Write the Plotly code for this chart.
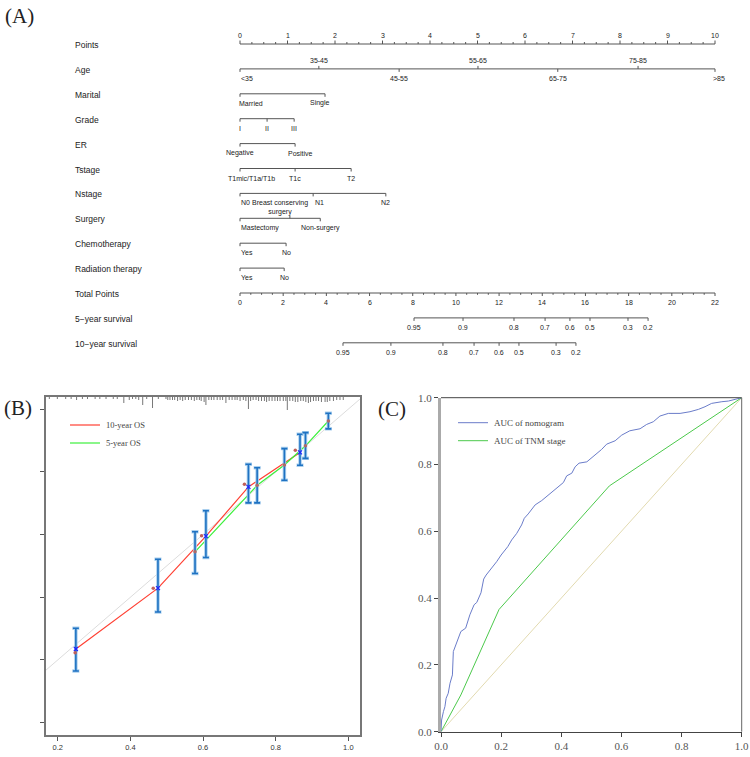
import plotly.graph_objects as go

W, H = 750, 757

# ------------------------- DATA -------------------------
# (A) nomogram
row_names = ["Points", "Age", "Marital", "Grade", "ER", "Tstage", "Nstage", "Surgery",
             "Chemotherapy", "Radiation therapy", "Total Points", "5\u2212year survival",
             "10\u2212year survival"]
points_major = list(range(0, 11))
age_levels = ["<35", "35-45", "45-55", "55-65", "65-75", "75-85", ">85"]
age_points = [0.0, 1.66, 3.35, 5.01, 6.69, 8.38, 10.0]
marital_levels = ["Married", "Single"]
marital_points = [0.0, 1.79]
grade_levels = ["I", "II", "III"]
grade_points = [0.0, 0.57, 1.14]
er_levels = ["Negative", "Positive"]
er_points = [0.0, 1.16]
tstage_levels = ["T1mic/T1a/T1b", "T1c", "T2"]
tstage_points = [0.0, 1.16, 2.34]
nstage_levels = ["N0", "N1", "N2"]
nstage_points = [0.0, 1.54, 3.07]
surgery_levels = ["Mastectomy", "Breast conserving<br>surgery", "Non-surgery"]
surgery_points = [0.0, 1.05, 1.69]
chemo_levels = ["Yes", "No"]
chemo_points = [0.0, 0.97]
radiation_levels = ["Yes", "No"]
radiation_points = [0.0, 0.93]
total_major = list(range(0, 23, 2))
total_max = 22
surv5_labels = ["0.95", "0.9", "0.8", "0.7", "0.6", "0.5", "0.3", "0.2"]
surv5_total = [8.06, 10.33, 12.69, 14.13, 15.28, 16.21, 17.97, 18.90]
surv10_labels = ["0.95", "0.9", "0.8", "0.7", "0.6", "0.5", "0.3", "0.2"]
surv10_total = [4.77, 6.99, 9.40, 10.84, 12.00, 12.92, 14.64, 15.56]

# (B) calibration
cal10_pred = [0.250, 0.476, 0.608, 0.725, 0.867]
cal10_obs = [0.235, 0.429, 0.595, 0.752, 0.862]
cal10_lo = [0.165, 0.353, 0.527, 0.701, 0.821]
cal10_hi = [0.301, 0.521, 0.676, 0.824, 0.920]
cal10_corr_x = [0.248, 0.463, 0.596, 0.714, 0.854]
cal10_corr_y = [0.223, 0.429, 0.596, 0.760, 0.869]
cal5_pred = [0.578, 0.749, 0.824, 0.882, 0.945]
cal5_obs = [0.545, 0.757, 0.822, 0.883, 0.962]
cal5_lo = [0.476, 0.701, 0.773, 0.843, 0.937]
cal5_hi = [0.609, 0.813, 0.874, 0.925, 0.987]
rug_x = [0.177, 0.199, 0.222, 0.237, 0.252, 0.268, 0.282, 0.303, 0.316, 0.333, 0.353, 0.364,
         0.382, 0.397, 0.406, 0.415, 0.423, 0.434, 0.445, 0.461, 0.477, 0.498, 0.503, 0.509,
         0.516, 0.522, 0.530, 0.537, 0.544, 0.551, 0.560, 0.568, 0.576, 0.583, 0.590, 0.595,
         0.603, 0.608, 0.616, 0.623, 0.630, 0.639, 0.647, 0.654, 0.663, 0.672, 0.680, 0.688,
         0.694, 0.702, 0.711, 0.718, 0.725, 0.731, 0.738, 0.746, 0.753, 0.761, 0.769, 0.775,
         0.782, 0.790, 0.798, 0.805, 0.812, 0.821, 0.828, 0.832, 0.839, 0.847, 0.854, 0.861,
         0.869, 0.876, 0.883, 0.890, 0.896, 0.904, 0.911, 0.918, 0.926, 0.936, 0.942, 0.949,
         0.959, 0.968, 0.977, 0.986]
rug_n = [2, 2, 2, 2, 3, 2, 2, 2, 2, 2, 2, 2,
         6, 3, 2, 2, 3, 8, 2, 11, 2, 2, 3, 3,
         3, 3, 4, 3, 4, 3, 3, 3, 4, 3, 3, 4,
         5, 8, 3, 3, 3, 3, 3, 3, 6, 3, 3, 3,
         3, 4, 3, 4, 12, 4, 3, 3, 4, 4, 4, 5,
         4, 4, 4, 4, 4, 4, 4, 13, 4, 4, 5, 5,
         4, 4, 5, 6, 5, 4, 4, 4, 5, 5, 5, 4,
         4, 3, 3, 3]

# (C) ROC
roc_nom_fpr = [0, 0.002, 0.008, 0.013, 0.017, 0.024, 0.030, 0.038, 0.041, 0.047, 0.055, 0.066,
               0.082, 0.096, 0.110, 0.119, 0.133, 0.142, 0.150, 0.169, 0.185, 0.200, 0.222,
               0.235, 0.252, 0.268, 0.277, 0.290, 0.313, 0.335, 0.357, 0.385, 0.407, 0.418,
               0.435, 0.446, 0.459, 0.485, 0.512, 0.534, 0.551, 0.579, 0.601, 0.628, 0.662,
               0.684, 0.706, 0.728, 0.756, 0.795, 0.828, 0.856, 0.878, 0.900, 0.934, 0.956,
               0.978, 1.0]
roc_nom_tpr = [0, 0.035, 0.060, 0.075, 0.100, 0.115, 0.145, 0.170, 0.240, 0.253, 0.275, 0.300,
               0.310, 0.350, 0.380, 0.387, 0.416, 0.457, 0.469, 0.489, 0.509, 0.529, 0.554,
               0.574, 0.594, 0.619, 0.639, 0.652, 0.679, 0.692, 0.709, 0.729, 0.746, 0.766,
               0.774, 0.793, 0.804, 0.808, 0.828, 0.845, 0.861, 0.871, 0.888, 0.901, 0.907,
               0.920, 0.928, 0.945, 0.953, 0.953, 0.958, 0.965, 0.973, 0.983, 0.988, 0.990,
               0.995, 1.0]
roc_tnm_fpr = [0, 0.066, 0.193, 0.560, 1.0]
roc_tnm_tpr = [0, 0.110, 0.366, 0.736, 1.0]

# ------------------------- LAYOUT HELPERS -------------------------
SANS = "Liberation Sans, Arial, sans-serif"
SERIF = "Liberation Serif, Times New Roman, serif"
X0_PX, PT_PX = 240.0, 47.5
ROW0_PX, ROW_PX = 44.0, 24.9
TP2PTS = 10.0 / total_max


def rpx(p):
    return p / ROW_PX


def px_x(p):
    return p / W


def px_y(p):
    return 1 - p / H


fig = go.Figure()
annots = []
shapes = []

sx, sy = [], []


def seg(x0, y0, x1, y1):
    sx.extend([x0, x1, None])
    sy.extend([y0, y1, None])


def tick(x, row, side, length=3.0):
    d = -rpx(length) if side == "above" else rpx(length)
    seg(x, row, x, row + d)


def tlabel(x, row, text, side, xanchor="center", xshift=0, dy=None, size=7):
    if dy is None:
        dy = 8.5 if side == "above" else -9.5
    annots.append(dict(x=x, y=row, xref="x", yref="y", text=text, showarrow=False,
                       font=dict(family=SANS, size=size, color="#222"),
                       xanchor=xanchor, yanchor="middle", yshift=dy, xshift=xshift))


# row labels
for i, name in enumerate(row_names):
    annots.append(dict(x=px_x(73), y=i, xref="paper", yref="y", text=name, showarrow=False,
                       font=dict(family=SANS, size=8.5, color="#222"),
                       xanchor="left", yanchor="middle", yshift=-1))

# Points
seg(0, 0, 10, 0)
for k in range(41):
    tick(k * 0.25, 0, "above", 3.5 if k % 4 == 0 else 2.0)
for v in points_major:
    tlabel(v, 0, str(v), "above")

# Age
seg(age_points[0], 1, age_points[-1], 1)
for j, (lv, pt) in enumerate(zip(age_levels, age_points)):
    side = "above" if j % 2 == 1 else "below"
    tick(pt, 1, side)
    xa, xs = "center", 0
    if j == 0:
        xa, xs = "left", -1
    if j == len(age_levels) - 1:
        xs = 4
    tlabel(pt, 1, lv, side, xanchor=xa, xshift=xs)

label_style = {"Married": ("left", -3), "Mastectomy": ("left", -1), "Yes": ("left", -1),
               "N0": ("left", -1), "T1mic/T1a/T1b": ("center", 11), "Positive": ("center", 5),
               "Single": ("center", -5), "N1": ("center", 6),
               "Breast conserving<br>surgery": ("center", -10)}
cat_rows = [(2, marital_levels, marital_points), (3, grade_levels, grade_points),
            (4, er_levels, er_points), (5, tstage_levels, tstage_points),
            (6, nstage_levels, nstage_points), (7, surgery_levels, surgery_points),
            (8, chemo_levels, chemo_points), (9, radiation_levels, radiation_points)]
for row, levels, pts in cat_rows:
    seg(min(pts), row, max(pts), row)
    for lv, pt in zip(levels, pts):
        side = "above" if "<br>" in lv else "below"
        tick(pt, row, side)
        xa, xs = label_style.get(lv, ("center", 0))
        tlabel(pt, row, lv, side, xanchor=xa, xshift=xs, dy=(10.5 if side == "above" else None))

# Total points
seg(0, 10, total_max * TP2PTS, 10)
for k in range(total_max * 2 + 1):
    tick(k * 0.5 * TP2PTS, 10, "below", 3.0 if k % 4 == 0 else 1.8)
for v in total_major:
    tlabel(v * TP2PTS, 10, str(v), "below")

# Survival axes
for row, labs, tps in [(11, surv5_labels, surv5_total), (12, surv10_labels, surv10_total)]:
    seg(min(tps) * TP2PTS, row, max(tps) * TP2PTS, row)
    for lb, tp in zip(labs, tps):
        tick(tp * TP2PTS, row, "below")
        tlabel(tp * TP2PTS, row, lb, "below")

fig.add_trace(go.Scatter(x=sx, y=sy, mode="lines", line=dict(color="#555", width=1),
                         xaxis="x", yaxis="y", hoverinfo="skip"))

# ------------------------- (B) calibration -------------------------
B_YTOP = 1.0386
B_PXY = 313.6
rx, ry = [], []
for xv, n in zip(rug_x, rug_n):
    rx.extend([xv, xv, None])
    ry.extend([B_YTOP, B_YTOP - n / B_PXY, None])
fig.add_trace(go.Scatter(x=rx, y=ry, mode="lines", line=dict(color="#777", width=1),
                         xaxis="x2", yaxis="y2", hoverinfo="skip"))
fig.add_trace(go.Scatter(x=[0.1678, 1.0321], y=[0.1678, 1.0321], mode="lines",
                         line=dict(color="#dcdcdc", width=1), xaxis="x2", yaxis="y2"))
fig.add_trace(go.Scatter(x=cal10_pred, y=cal10_obs, mode="lines",
                         line=dict(color="#ff4033", width=1.2), xaxis="x2", yaxis="y2"))
fig.add_trace(go.Scatter(x=cal5_pred, y=cal5_obs, mode="lines",
                         line=dict(color="#3cf03c", width=1.2), xaxis="x2", yaxis="y2"))
for pred, obs, lo, hi in [(cal10_pred, cal10_obs, cal10_lo, cal10_hi),
                          (cal5_pred, cal5_obs, cal5_lo, cal5_hi)]:
    up = [h - o for h, o in zip(hi, obs)]
    dn = [o - l for o, l in zip(obs, lo)]
    fig.add_trace(go.Scatter(x=pred, y=obs, mode="markers", marker=dict(size=1, color="rgba(0,0,0,0)"),
                             error_y=dict(type="data", array=up, arrayminus=dn, color="#a9cfee",
                                          thickness=3.5, width=3.5),
                             xaxis="x2", yaxis="y2"))
    fig.add_trace(go.Scatter(x=pred, y=obs, mode="markers", marker=dict(size=1, color="rgba(0,0,0,0)"),
                             error_y=dict(type="data", array=up, arrayminus=dn, color="#1f72c2",
                                          thickness=1.6, width=3),
                             xaxis="x2", yaxis="y2"))
fig.add_trace(go.Scatter(x=cal10_pred, y=cal10_obs, mode="markers",
                         marker=dict(symbol="x-thin", size=4, color="#2020ff",
                                     line=dict(color="#2020ff", width=1.2)),
                         xaxis="x2", yaxis="y2"))
fig.add_trace(go.Scatter(x=cal10_corr_x, y=cal10_corr_y, mode="markers",
                         marker=dict(size=3.5, color="#c0605a"), xaxis="x2", yaxis="y2"))
fig.add_trace(go.Scatter(x=cal5_pred, y=cal5_obs, mode="markers",
                         marker=dict(size=3.5, color="#b06a66"), xaxis="x2", yaxis="y2"))

# ------------------------- (C) ROC -------------------------
fig.add_trace(go.Scatter(x=[0, 1], y=[0, 1], mode="lines", line=dict(color="#e2dab0", width=1),
                         xaxis="x3", yaxis="y3"))
fig.add_trace(go.Scatter(x=roc_tnm_fpr, y=roc_tnm_tpr, mode="lines",
                         line=dict(color="#4cc94c", width=1), xaxis="x3", yaxis="y3"))
fig.add_trace(go.Scatter(x=roc_nom_fpr, y=roc_nom_tpr, mode="lines",
                         line=dict(color="#6a7cc9", width=1), xaxis="x3", yaxis="y3"))

shapes.append(dict(type="line", xref="x3 domain", yref="y3 domain", x0=0, x1=1, y0=1, y1=1,
                   line=dict(color="#444", width=1)))
shapes.append(dict(type="line", xref="x3 domain", yref="y3 domain", x0=1, x1=1, y0=0, y1=1,
                   line=dict(color="#666", width=1)))

for y_px, col, txt in [(425, "#ff4033", "10-year OS"), (443, "#3cf03c", "5-year OS")]:
    shapes.append(dict(type="line", xref="paper", yref="paper", x0=px_x(70), x1=px_x(100),
                       y0=px_y(y_px), y1=px_y(y_px), line=dict(color=col, width=1.2)))
    annots.append(dict(x=px_x(104), y=px_y(y_px), xref="paper", yref="paper", text=txt,
                       showarrow=False, xanchor="left", yanchor="middle",
                       font=dict(family=SERIF, size=8.5, color="#444")))
for y_px, col, txt in [(422.7, "#6a7cc9", "AUC of nomogram"), (440.7, "#4cc94c", "AUC of TNM stage")]:
    shapes.append(dict(type="line", xref="paper", yref="paper", x0=px_x(458), x1=px_x(488),
                       y0=px_y(y_px), y1=px_y(y_px), line=dict(color=col, width=1)))
    annots.append(dict(x=px_x(492), y=px_y(y_px), xref="paper", yref="paper", text=txt,
                       showarrow=False, xanchor="left", yanchor="middle",
                       font=dict(family=SERIF, size=9, color="#444")))

for xp, yp, t in [(3, 16, "(A)"), (2, 408, "(B)"), (376, 409, "(C)")]:
    annots.append(dict(x=px_x(xp), y=px_y(yp), xref="paper", yref="paper", text=t,
                       showarrow=False, xanchor="left", yanchor="middle",
                       font=dict(family=SERIF, size=21, color="#222")))

fig.update_layout(
    template="none",
    width=W, height=H, margin=dict(l=0, r=0, t=0, b=0, pad=0), autosize=False,
    paper_bgcolor="white", plot_bgcolor="rgba(0,0,0,0)", showlegend=False,
    annotations=annots, shapes=shapes,
    xaxis=dict(domain=[0, 1], range=[-X0_PX / PT_PX, (W - X0_PX) / PT_PX], visible=False,
               automargin=False),
    yaxis=dict(domain=[0, 1], range=[(H - ROW0_PX) / ROW_PX, -ROW0_PX / ROW_PX], visible=False,
               automargin=False),
    xaxis2=dict(domain=[px_x(46), px_x(360)], anchor="y2", range=[0.1678, 1.0321],
                tickvals=[0.2, 0.4, 0.6, 0.8, 1.0], ticktext=["0.2", "0.4", "0.6", "0.8", "1.0"],
                ticks="outside", ticklen=4, tickcolor="#555", showline=True, linecolor="#777",
                linewidth=1.5, mirror=True, showgrid=False, zeroline=False, automargin=False,
                tickfont=dict(family=SANS, size=7.5, color="#333")),
    yaxis2=dict(domain=[px_y(735), px_y(397)], anchor="x2", range=[-0.0392, 1.0386],
                tickvals=[0, 0.2, 0.4, 0.6, 0.8, 1.0], showticklabels=False,
                ticks="outside", ticklen=4, tickcolor="#555", showline=True, linecolor="#777",
                linewidth=1.5, mirror=True, showgrid=False, zeroline=False, automargin=False),
    xaxis3=dict(domain=[px_x(441), px_x(741.7)], anchor="y3", range=[0, 1],
                tickvals=[0, 0.2, 0.4, 0.6, 0.8, 1.0], tickformat=".1f",
                ticks="outside", ticklen=4, tickcolor="#444", showline=True, linecolor="#444",
                linewidth=1, showgrid=False, zeroline=False, automargin=False,
                tickfont=dict(family=SERIF, size=11, color="#555")),
    yaxis3=dict(domain=[px_y(731.7), px_y(397.7)], anchor="x3", range=[0, 1],
                tickvals=[0, 0.2, 0.4, 0.6, 0.8, 1.0], tickformat=".1f",
                ticks="outside", ticklen=4, tickcolor="#444", showline=True, linecolor="#aaa",
                linewidth=3, showgrid=False, zeroline=False, automargin=False,
                tickfont=dict(family=SERIF, size=11, color="#555")),
)

fig.write_html("out.html", config={"displayModeBar": False},
               post_script="document.body.style.margin='0px';document.body.style.overflow='hidden';")
